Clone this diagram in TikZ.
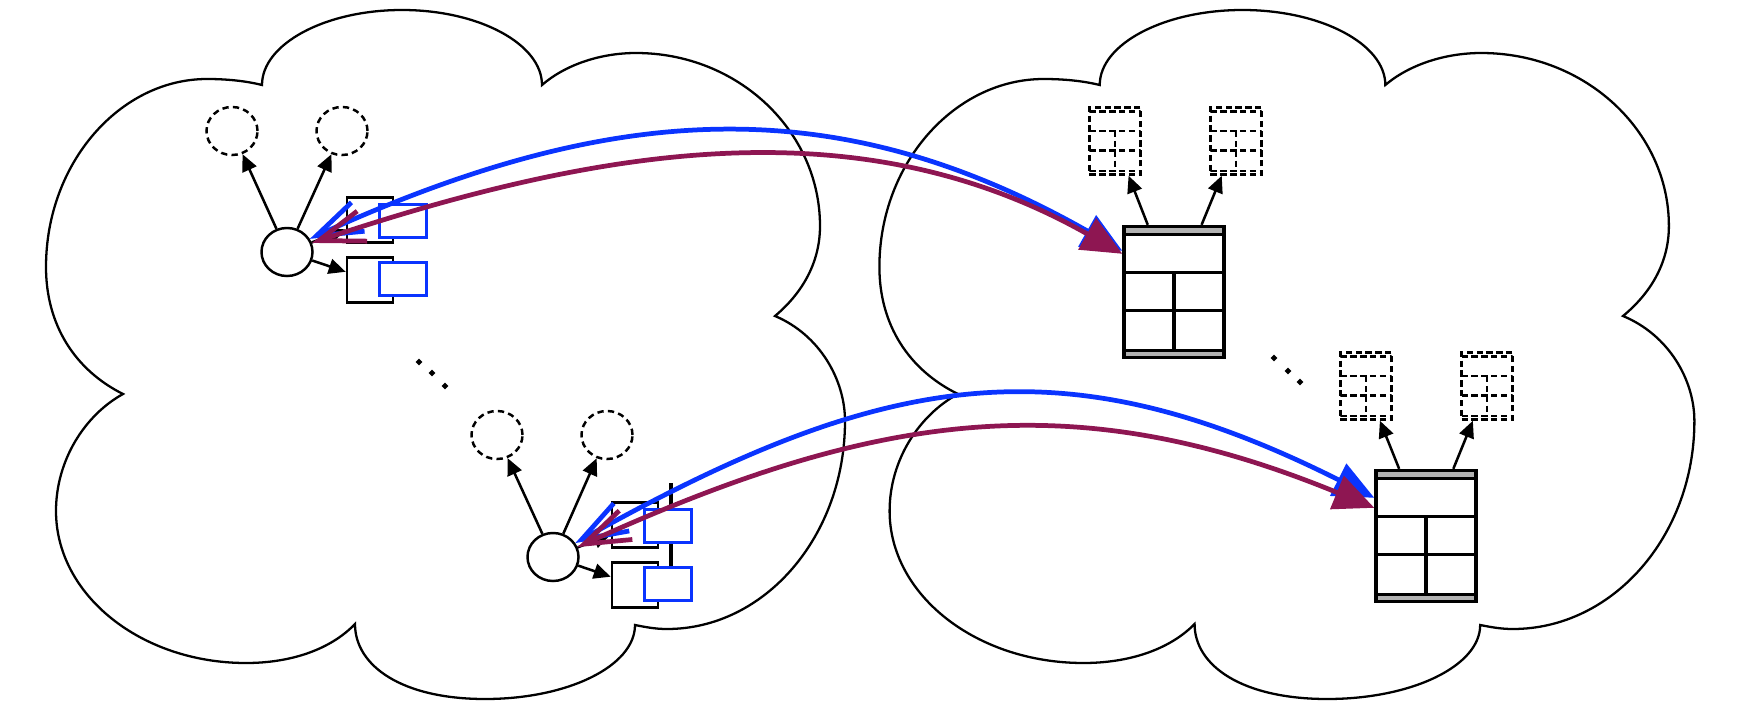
\documentclass[tikz,border=0pt]{standalone}
\usepackage{tikz}
\usetikzlibrary{arrows.meta,shapes.geometric,calc}

\definecolor{msgblue}{RGB}{10,52,255}
\definecolor{msgplum}{RGB}{142,22,82}
\definecolor{bargray}{RGB}{178,178,178}

\tikzset{
  cloudline/.style={line width=0.65pt},
  proc/.style={ellipse,draw,fill=white,line width=0.7pt,inner sep=0pt,minimum width=5.1mm,minimum height=4.8mm},
  ghost/.style={proc,line width=0.7pt,dash pattern=on 1.8pt off 1.2pt},
  queue/.style={rectangle,draw,fill=white,line width=0.75pt,inner sep=0pt,minimum width=4.6mm,minimum height=4.5mm},
  port/.style={rectangle,draw=msgblue,fill=white,line width=0.65pt,inner sep=0pt,minimum width=4.7mm,minimum height=3.3mm},
  bar fill/.style={fill=bargray},
  dbtab/.style={rectangle,draw,fill=white,line width=0.95pt,inner sep=0pt,minimum width=10mm,minimum height=13.1mm,
    path picture={
      \coordinate (nw) at (path picture bounding box.north west);
      \coordinate (ne) at (path picture bounding box.north east);
      \coordinate (sw) at (path picture bounding box.south west);
      \coordinate (se) at (path picture bounding box.south east);
      \coordinate (n) at (path picture bounding box.north);
      \coordinate (s) at (path picture bounding box.south);
      \path[bar fill] (nw) rectangle ($(ne)!0.061!(se)$);
      \path[bar fill] ($(sw)!0.053!(nw)$) rectangle (se);
      \draw ($(nw)!0.061!(sw)$) -- ($(ne)!0.061!(se)$);
      \draw ($(nw)!0.351!(sw)$) -- ($(ne)!0.351!(se)$);
      \draw ($(nw)!0.641!(sw)$) -- ($(ne)!0.641!(se)$);
      \draw ($(nw)!0.947!(sw)$) -- ($(ne)!0.947!(se)$);
      \draw ($(n)!0.351!(s)$) -- ($(n)!0.947!(s)$);
    }},
  ghosttab/.style={dbtab,dash pattern=on 1.8pt off 1pt,line width=0.7pt,minimum width=5.1mm,minimum height=6.7mm,bar fill/.style={}},
  ellipsisdot/.style={diamond,fill,inner sep=0pt,minimum width=0.75mm,minimum height=0.75mm},
  link/.style={line width=0.72pt,-{Triangle[length=4.8pt,width=4.3pt]}},
  dual/.style={line width=1.35pt,{Straight Barb[length=13pt,width=9pt]}-{Triangle[length=11.5pt,width=10pt]}}
}

\begin{document}
\begin{tikzpicture}[x=0.01cm,y=-0.01cm]
\useasboundingbox (0,0) rectangle (1751,709);

% the two clouds, the right one a little wider
\foreach \sh/\sc in {0/1,8.32/1.02}{
  \begin{scope}[xshift=\sh cm,xscale=\sc]
  \draw[cloudline] (123,394) .. controls (75,370) and (46,325) .. (46,267)
    .. controls (46,163) and (120,79) .. (207,79)
    .. controls (232,79) and (250,82) .. (262,85)
    .. controls (262,44) and (325,10) .. (402,10)
    .. controls (479,10) and (542,44) .. (542,85)
    .. controls (565,65) and (600,53) .. (636,53)
    .. controls (738,53) and (820,131) .. (820,226)
    .. controls (820,265) and (800,295) .. (775,316)
    .. controls (820,335) and (845,380) .. (845,421)
    .. controls (845,536) and (765,629) .. (667,629)
    .. controls (655,629) and (645,627) .. (635,625)
    .. controls (635,666) and (568,699) .. (485,699)
    .. controls (402,699) and (355,666) .. (355,624)
    .. controls (330,650) and (290,663) .. (246,663)
    .. controls (141,663) and (56,595) .. (56,511)
    .. controls (56,460) and (85,415) .. (123,394) -- cycle;
  \end{scope}
}

% bar behind the lower ports
\draw[line width=1.3pt] (671,483) -- (671,568);

\node[proc] (cA) at (287,252) {};
\node[ghost] (gA1) at (232,131) {};
\node[ghost] (gA2) at (342,131) {};
\node[queue] (qA1) at (370,220) {};
\node[queue] (qA2) at (370,280) {};
\node[port] (pA1) at (403,221) {};
\node[port] (pA2) at (403,279) {};

\node[proc] (cB) at (553,557) {};
\node[ghost] (gB1) at (497,435) {};
\node[ghost] (gB2) at (607,435) {};
\node[queue] (qB1) at (635,525) {};
\node[queue] (qB2) at (635,585) {};
\node[port] (pB1) at (668,526) {};
\node[port] (pB2) at (668,584) {};

\node[dbtab] (tA) at (1174,292) {};
\node[ghosttab] (hA1) at (1115,141) {};
\node[ghosttab] (hA2) at (1236,141) {};
\node[dbtab] (tB) at (1426,536) {};
\node[ghosttab] (hB1) at (1366,386) {};
\node[ghosttab] (hB2) at (1487,386) {};

\node[ellipsisdot] (eA1) at (419,362) {};
\node[ellipsisdot] (eA2) at (432,373) {};
\node[ellipsisdot] (eA3) at (445,386) {};
\node[ellipsisdot] (eB1) at (1274,358) {};
\node[ellipsisdot] (eB2) at (1288,371) {};
\node[ellipsisdot] (eB3) at (1300,382) {};

\draw[link] (cA) -- (gA1);
\draw[link] (cA) -- (gA2);
\draw[link] (cA) -- (qA1);
\draw[link] (cA) -- (qA2);
\draw[link] (cB) -- (gB1);
\draw[link] (cB) -- (gB2);
\draw[link] (cB) -- (qB1);
\draw[link] (cB) -- (qB2);
\draw[link] (tA) -- (hA1);
\draw[link] (tA) -- (hA2);
\draw[link] (tB) -- (hB1);
\draw[link] (tB) -- (hB2);

\draw[dual,msgblue] (cA.30) .. controls (614,100) and (837,89) .. ([yshift=-2.6mm]tA.north west);
\draw[dual,msgplum] (cA.20) .. controls (602,146) and (860,105) .. ([yshift=-2.9mm]tA.north west);
\draw[dual,msgblue] (cB.32) .. controls (884,370) and (1062,341) .. ([yshift=-2.9mm]tB.north west);
\draw[dual,msgplum] (cB.22) .. controls (876,411) and (1073,384) .. ([yshift=-3.9mm]tB.north west);

\end{tikzpicture}
\end{document}
